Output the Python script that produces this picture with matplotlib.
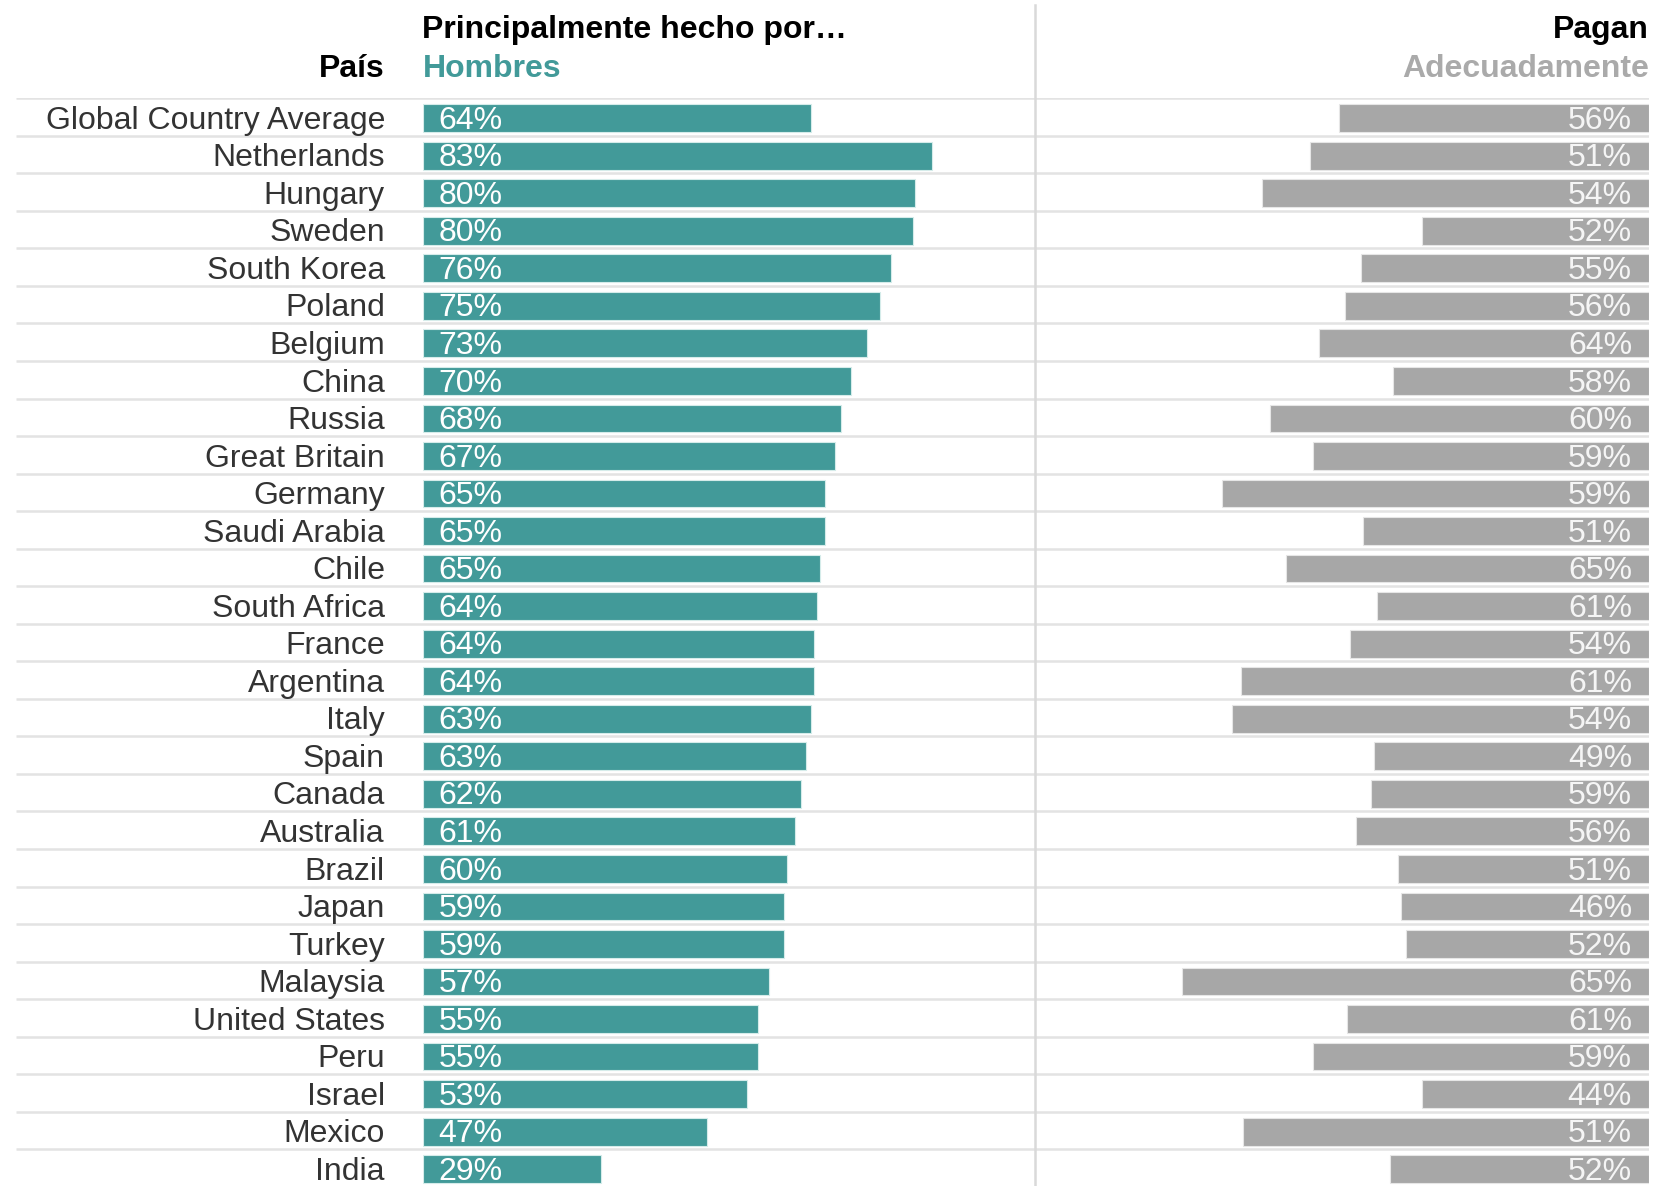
import numpy as np
import matplotlib.pyplot as plt
from matplotlib.lines import Line2D

plt.rcParams['font.family'] = ['Liberation Sans', 'DejaVu Sans']

paises = ["Global Country Average", "Netherlands", "Hungary", "Sweden", "South Korea",
          "Poland", "Belgium", "China", "Russia", "Great Britain", "Germany",
          "Saudi Arabia", "Chile", "South Africa", "France", "Argentina", "Italy",
          "Spain", "Canada", "Australia", "Brazil", "Japan", "Turkey", "Malaysia",
          "United States", "Peru", "Israel", "Mexico", "India"]

# "Principalmente hecho por... Hombres": largo de barra y etiqueta
hombres = [63.8, 83.6, 80.9, 80.5, 77.0, 75.2, 73.0, 70.4, 68.7, 67.8, 66.0,
           66.0, 65.2, 64.7, 64.3, 64.3, 63.8, 63.0, 62.1, 61.2, 59.9, 59.4,
           59.4, 56.9, 55.1, 55.1, 53.3, 46.7, 29.2]
hombres_txt = [64, 83, 80, 80, 76, 75, 73, 70, 68, 67, 65, 65, 65, 64, 64, 64,
               63, 63, 62, 61, 60, 59, 59, 57, 55, 55, 53, 47, 29]

# "Pagan Adecuadamente": largo de barra y etiqueta
pagan = [50.8, 55.6, 63.5, 37.2, 47.3, 49.9, 54.2, 42.0, 62.3, 55.2, 70.1,
         46.9, 59.6, 44.7, 49.1, 67.0, 68.4, 45.1, 45.6, 48.1, 41.2, 40.7,
         39.9, 76.7, 49.5, 55.2, 37.2, 66.6, 42.5]
pagan_txt = [56, 51, 54, 52, 55, 56, 64, 58, 60, 59, 59, 51, 65, 61, 54, 61,
             54, 49, 59, 56, 51, 46, 52, 65, 61, 59, 44, 51, 52]

TEAL = "#429a99"
GRIS = "#a7a7a7"
LINEA = "#e3e3e3"
FS = 23

W, H = 1673, 1186
fig = plt.figure(figsize=(W / 100, H / 100), dpi=100)

def fx(px):
    return px / W

def fy(py):
    return 1 - py / H

n = len(paises)
top = 98.2
pitch = 37.54
bot = top + n * pitch
escala = 6.085          # px por punto porcentual
x_izq = 422.9
x_div = 1035
x_der = 1648.6

filas = np.arange(n)

# lineas de fondo
bg = fig.add_axes([fx(16), fy(bot), fx(x_der) - fx(16), (bot - top) / H])
bg.set_xlim(0, 1)
bg.set_ylim(n - 0.5, -0.5)
bg.hlines(np.arange(n) - 0.5, 0, 1, color=LINEA, lw=1.8)
bg.axis('off')

# panel izquierdo
ax1 = fig.add_axes([fx(x_izq), fy(bot), fx(x_div) - fx(x_izq), (bot - top) / H])
ax1.set_xlim(0, (x_div - x_izq) / escala)
ax1.set_ylim(n - 0.5, -0.5)
ax1.barh(filas + 0.03, hombres, height=0.74, color=TEAL, edgecolor="#d5ecea", lw=0.8)
for i in filas:
    ax1.text(15.6 / escala, i + 0.1, f"{hombres_txt[i]}%", color="white",
             fontsize=FS, va='center', ha='left')
    ax1.text(-38 / escala, i + 0.1, paises[i], color="#333333", fontsize=FS,
             va='center', ha='right', clip_on=False)
ax1.axis('off')

# panel derecho
ax2 = fig.add_axes([fx(x_div), fy(bot), fx(x_der) - fx(x_div), (bot - top) / H])
ax2.set_xlim((x_der - x_div) / escala, 0)
ax2.set_ylim(n - 0.5, -0.5)
ax2.barh(filas + 0.03, pagan, height=0.74, color=GRIS, edgecolor="#e6e6e6", lw=0.8)
for i in filas:
    ax2.text(16.6 / escala, i + 0.1, f"{pagan_txt[i]}%", color="#f5f5f5",
             fontsize=FS, va='center', ha='right')
ax2.axis('off')

# divisor vertical
fig.add_artist(Line2D([fx(x_div), fx(x_div)], [0, fy(5)], color="#d9d9d9", lw=1.8,
                      transform=fig.transFigure))

# encabezados
fig.text(fx(422.5), fy(30), "Principalmente hecho por…", fontsize=FS,
         fontweight='bold', color="black", va='center', ha='left')
fig.text(fx(385), fy(69), "País", fontsize=FS, fontweight='bold',
         color="black", va='center', ha='right')
fig.text(fx(422.5), fy(69), "Hombres", fontsize=FS, fontweight='bold',
         color=TEAL, va='center', ha='left')
fig.text(fx(x_der), fy(30), "Pagan", fontsize=FS, fontweight='bold',
         color="black", va='center', ha='right')
fig.text(fx(x_der), fy(69), "Adecuadamente", fontsize=FS, fontweight='bold',
         color="#aaaaaa", va='center', ha='right')

fig.savefig("out.png", dpi=100)
